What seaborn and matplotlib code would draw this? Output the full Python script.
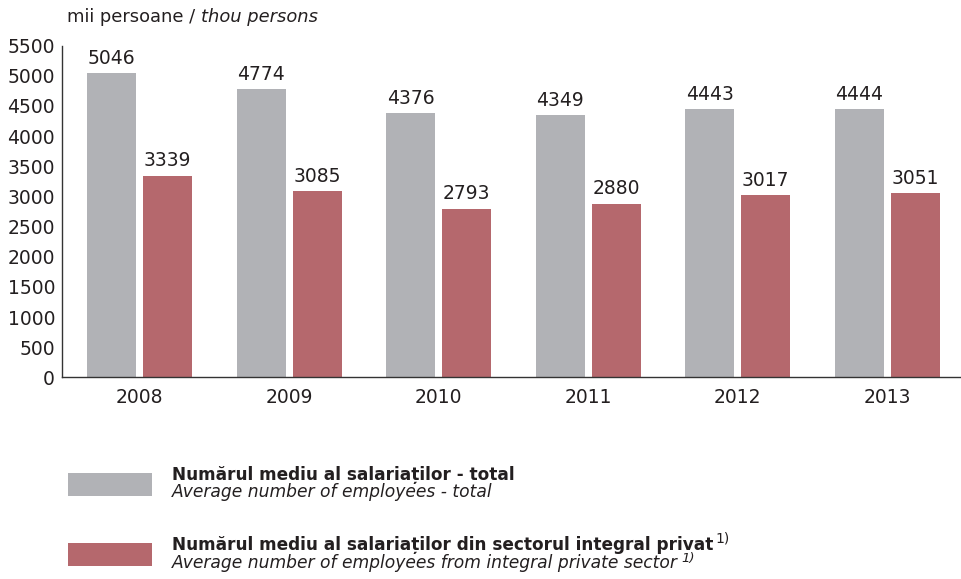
import pandas as pd
import matplotlib.pyplot as plt
import seaborn as sns
from matplotlib.patches import Rectangle
from matplotlib.ticker import FixedLocator

# Data
years = ["2008", "2009", "2010", "2011", "2012", "2013"]
total = [5046, 4774, 4376, 4349, 4443, 4444]
private = [3339, 3085, 2793, 2880, 3017, 3051]
series_names = ["total", "private"]
colors = ["#b1b2b6", "#b5686d"]
yticks = list(range(0, 5501, 500))

legend_ro = ["Numărul mediu al salariaților - total",
             "Numărul mediu al salariaților din sectorul integral privat"]
legend_en = ["Average number of employees - total",
             "Average number of employees from integral private sector"]

df = pd.DataFrame({
    "year": years * 2,
    "value": total + private,
    "series": [series_names[0]] * len(years) + [series_names[1]] * len(years),
})

sns.set_style("white")
plt.rcParams["font.family"] = ["DejaVu Sans"]
text_color = "#231f20"
W, H = 962, 579
num_size = 13.5

fig = plt.figure(figsize=(W / 100, H / 100), dpi=100)
ax = fig.add_axes([62 / W, 1 - 377.3 / H, 900 / W, (377.3 - 45.7) / H])

sns.barplot(data=df, x="year", y="value", hue="series", hue_order=series_names,
            palette=colors, width=0.749, gap=0.125, saturation=1, linewidth=0,
            legend=False, ax=ax)

for cont in ax.containers:
    ax.bar_label(cont, fmt="%d", padding=4, fontsize=num_size, color=text_color)

ax.set_xlim(-0.52, 5.5)
ax.set_ylim(0, 5500)
ax.set_yticks(yticks)
ax.set_xlabel("")
ax.set_ylabel("")
for s in ["top", "right"]:
    ax.spines[s].set_visible(False)
for s in ["left", "bottom"]:
    ax.spines[s].set_color("#333333")
    ax.spines[s].set_linewidth(1.0)

ax.tick_params(axis="y", direction="in", length=4, width=1, color="#333333",
               labelsize=num_size, labelcolor=text_color, pad=5)
ax.tick_params(axis="x", which="major", length=0, labelsize=num_size, labelcolor=text_color, pad=8)
ax.xaxis.set_minor_locator(FixedLocator([i + 0.5 for i in range(len(years) - 1)]))
ax.tick_params(axis="x", which="minor", direction="in", length=6, width=1, color="#333333")

# unit label
unit = fig.text(67 / W, 1 - 17 / H, "mii persoane / ", fontsize=12.9, color=text_color, va="center")
fig.canvas.draw()
ax.annotate("thou persons", xy=(1, 0.5), xycoords=unit, va="center", ha="left",
            fontsize=12.9, style="italic", color=text_color, annotation_clip=False)

# Legend
patch_top = [473, 543.3]
for i in range(2):
    fig.patches.append(Rectangle((68 / W, 1 - (patch_top[i] + 22.5) / H), 83.5 / W, 22.5 / H,
                                 transform=fig.transFigure, facecolor=colors[i], edgecolor="none"))
    base1 = 1 - (patch_top[i] + 6.8) / H
    base2 = 1 - (patch_top[i] + 24.2) / H
    t1 = fig.text(172 / W, base1, legend_ro[i], fontsize=12.2,
                  fontweight="bold", color=text_color, va="baseline")
    t2 = fig.text(172 / W, base2, legend_en[i], fontsize=12.3,
                  style="italic", color=text_color, va="baseline")
    if i == 1:
        fig.canvas.draw()
        r = fig.canvas.get_renderer()
        x1 = t1.get_window_extent(r).x1
        x2 = t2.get_window_extent(r).x1
        fig.text((x1 + 2) / W, base1 + 7.7 / H, "1)", fontsize=10, color=text_color,
                 va="baseline")
        fig.text((x2 + 3) / W, base2 + 5.5 / H, "1)", fontsize=9.5, style="italic",
                 color=text_color, va="baseline")

fig.savefig("out.png", dpi=100)
